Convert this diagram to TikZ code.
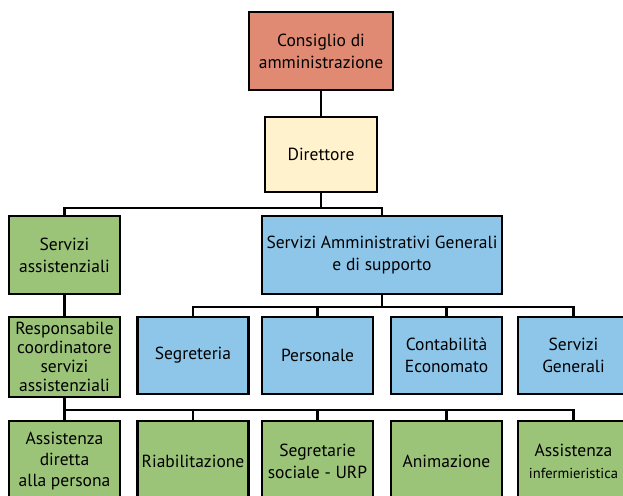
\documentclass[tikz,border=0pt]{standalone}
\usepackage{fontspec}
\setmainfont{PT Sans}
\definecolor{boardred}{RGB}{224,138,116}
\definecolor{directorcream}{RGB}{255,242,204}
\definecolor{carecgreen}{RGB}{155,196,121}
\definecolor{adminblue}{RGB}{142,198,234}
\tikzset{
  unit/.style={draw=black, line width=2.8pt, align=center, inner sep=0pt,
    minimum width=111pt, minimum height=77pt, font=\fontsize{17.5}{22}\selectfont},
  green/.style={unit, fill=carecgreen},
  blue/.style={unit, fill=adminblue},
  conn/.style={draw=black, line width=2.8pt, line cap=rect},
}
\begin{document}
\begin{tikzpicture}[x=1pt,y=-1pt]
  \useasboundingbox (0,0) rectangle (623,495);
  \clip (0,0) rectangle (623,495);

  % top of the hierarchy
  \node[unit, fill=boardred, minimum width=144pt, minimum height=78pt] (cda) at (321,51)
    {Consiglio di\\amministrazione};
  \node[unit, fill=directorcream, minimum width=112pt, minimum height=75pt] (dir) at (321,154.5)
    {Direttore};

  % second level
  \node[green, minimum height=78pt] (sa) at (64.5,255) {Servizi\\assistenziali};
  \node[blue, minimum width=240pt, minimum height=78pt] (sag) at (382,255)
    {Servizi Amministrativi Generali\\e di supporto};

  % third level
  \node[green, minimum height=80pt, font=\fontsize{17.5}{19}\selectfont] (resp) at (64.5,357)
    {Responsabile\\coordinatore\\servizi\\assistenziali};
  \node[blue] (seg)  at (193,355.5)   {Segreteria};
  \node[blue] (pers) at (317.5,355.5) {Personale};
  \node[blue] (cont) at (446.5,355.5) {Contabilità\\Economato};
  \node[blue] (sg)   at (573.5,355.5) {Servizi\\Generali};

  % care services
  \node[green, minimum height=80pt, font=\fontsize{17.5}{21}\selectfont] (ad) at (64.5,461)
    {Assistenza\\diretta\\alla persona};
  \node[green, minimum height=80pt] (ria) at (193,461)   {Riabilitazione};
  \node[green, minimum height=80pt] (seu) at (317.5,461) {Segretarie\\sociale - URP};
  \node[green, minimum height=80pt] (ani) at (446.5,461) {Animazione};
  \node[green, minimum height=80pt] (ai)  at (573.5,461)
    {Assistenza\\{\fontsize{14.5}{18}\selectfont infermieristica}};

  % bus lines
  \coordinate (b1) at (0,208);
  \coordinate (b2) at (0,307);
  \coordinate (b3) at (0,410);

  \draw[conn] (cda.south) -- (dir.north);
  \draw[conn] (dir.south) -- (dir.south |- b1);
  \draw[conn] (sa.north) -- (sa.north |- b1) -- (sag.north |- b1) -- (sag.north);
  \draw[conn] (sa.south) -- (resp.north);

  \draw[conn] (sag.south) -- (sag.south |- b2);
  \draw[conn] (seg.north) -- (seg.north |- b2) -- (sg.north |- b2) -- (sg.north);
  \draw[conn] (pers.north) -- (pers.north |- b2);
  \draw[conn] (cont.north) -- (cont.north |- b2);

  \draw[conn] (resp.south) -- (resp.south |- b3) -- (ai.north |- b3) -- (ai.north);
  \draw[conn] (ad.north) -- (ad.north |- b3);
  \draw[conn] (ria.north) -- (ria.north |- b3);
  \draw[conn] (seu.north) -- (seu.north |- b3);
  \draw[conn] (ani.north) -- (ani.north |- b3);
\end{tikzpicture}
\end{document}
